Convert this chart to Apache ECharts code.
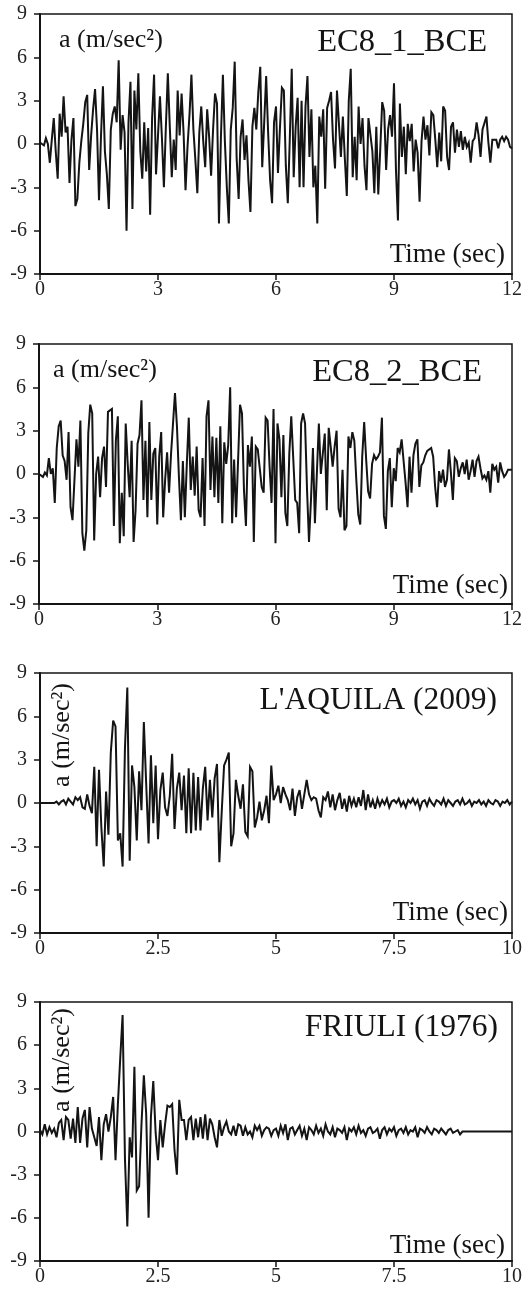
<!DOCTYPE html>
<html><head><meta charset="utf-8">
<script src="https://cdn.jsdelivr.net/npm/echarts@6/dist/echarts.min.js"></script>
<style>html,body{margin:0;padding:0;background:#fff}#c{width:525px;height:1293px}</style>
</head><body><div id="c"></div>
<script>
// sample interval (s)
const DT = 0.05;
const yTicks = [-9, -6, -3, 0, 3, 6, 9];
const titles = ["EC8_1_BCE", "EC8_2_BCE", "L'AQUILA (2009)", "FRIULI (1976)"];
const xMaxes = [12, 12, 10, 10];
const xSteps = [3, 3, 2.5, 2.5];

const ec8_1 = [
 0.1,0.2,-0.1,0.4,0.0,-1.3,0.3,1.8,-0.5,-2.4,
 2.1,0.5,3.3,0.8,1.2,-2.7,0.3,1.8,-4.3,-3.8,
 -1.3,0.2,1.4,2.9,3.4,-1.8,0.6,2.4,3.8,1.0,
 -3.9,0.5,4.0,-0.5,-2.1,-4.5,1.0,2.1,2.6,1.5,
 5.8,-0.4,2.0,0.8,-6.0,1.5,4.3,-4.5,3.7,1.0,
 4.9,-0.5,-2.4,1.5,-1.9,1.1,-4.9,1.8,4.8,-2.1,
 0.6,3.3,0.4,-3.0,1.2,4.9,1.2,-2.3,0.3,-1.8,
 3.7,0.6,3.5,0.8,-3.2,-0.2,2.0,4.8,1.0,-1.1,
 -3.4,0.8,2.6,0.2,-1.6,2.4,0.5,-2.2,1.0,3.5,
 2.8,-5.5,0.5,4.8,0.2,-3.0,-5.5,1.0,2.5,5.7,
 -1.0,-3.8,0.5,1.7,-1.1,0.6,-2.5,-4.7,1.2,2.5,
 1.0,3.6,5.35,-1.6,1.5,4.7,0.8,-2.5,-4.1,1.5,
 2.6,-2.0,1.1,3.9,3.7,-1.5,-4.1,0.3,5.2,-2.3,
 1.2,3.2,-3.0,3.0,-3.0,2.6,4.7,-0.9,2.4,-3.0,
 -1.5,-5.5,1.9,0.5,2.4,-3.1,2.5,3.0,3.6,0.3,
 -1.7,3.7,3.7,-0.9,1.9,-1.0,-3.6,3.0,5.2,-2.3,
 0.5,-2.5,2.6,0.0,1.8,-1.5,-3.2,1.8,1.7,-0.5,
 -3.4,1.2,-3.5,-0.4,2.9,2.3,-1.8,1.0,2.0,0.5,
 4.2,-1.8,-5.3,2.8,-0.9,1.2,-2.1,1.4,0.2,1.4,
 -1.9,0.3,-0.6,-4.0,0.2,1.9,0.3,1.3,-0.8,2.2,
 2.0,0.3,-1.6,0.8,-1.2,2.6,2.3,-0.9,-1.8,1.2,
 1.5,-0.6,1.0,-0.2,0.9,-0.4,0.5,-0.2,0.1,-1.3,
 0.2,0.4,1.5,0.6,-0.9,1.0,0.9,1.9,0.1,-1.3,
 0.3,0.4,0.3,-0.3,0.3,0.5,0.2,0.5,0.3,-0.2,
 -0.3
];

const ec8_2 = [
 0.0,-0.1,-0.2,0.1,-0.1,1.1,0.0,0.4,-2.0,1.8,
 3.3,3.7,1.3,0.9,-0.4,2.9,-2.3,-3.2,-3.1,2.4,
 0.5,3.7,-4.1,-5.3,-3.9,2.8,4.8,4.2,-4.6,0.0,
 1.2,-1.6,1.1,1.9,-0.9,4.3,4.2,4.5,-3.6,2.3,
 4.0,-4.8,-1.3,-4.3,3.5,0.7,-1.6,2.3,-4.7,-2.5,
 2.1,2.7,5.1,-1.8,2.3,-3.0,3.6,-1.8,1.4,1.8,
 -3.5,1.2,2.9,-3.0,-0.4,1.5,-1.3,1.4,3.5,5.6,
 3.3,-0.2,-3.2,0.9,-3.0,0.7,3.9,-1.1,1.2,-1.5,
 1.9,-2.5,-3.0,1.1,-3.6,4.0,5.1,-1.1,2.6,-1.6,
 2.5,-2.0,3.3,-3.4,2.2,0.7,2.0,6.0,-3.4,1.0,
 -3.0,-2.9,4.8,4.2,-1.1,-3.6,2.0,0.5,2.6,-4.7,
 1.9,1.7,0.4,-0.9,-1.3,3.9,3.7,0.5,-2.0,4.5,
 -4.8,3.5,2.4,-1.6,2.7,-2.7,-3.6,1.4,4.0,4.1,
 -1.8,-2.0,-4.1,3.5,4.2,3.5,-1.1,-4.7,-1.8,1.8,
 -3.4,0.1,3.5,0.0,1.4,2.8,-2.5,3.2,1.9,0.5,
 1.9,3.0,-2.4,-3.0,0.3,-3.9,-3.6,2.6,1.8,2.9,
 2.3,-0.4,-2.8,-3.5,1.2,3.6,1.0,-1.2,-1.7,0.7,
 1.3,1.0,1.2,1.5,3.9,-2.9,-3.8,0.2,1.1,-2.3,
 0.4,-0.5,1.8,1.5,2.4,0.9,-0.6,-2.3,1.2,-1.3,
 1.3,2.1,2.4,-0.9,0.6,0.8,1.3,1.6,1.7,1.8,
 1.2,-0.9,-2.3,0.2,-0.6,0.3,-0.9,-0.4,1.7,0.1,
 -1.8,1.1,0.9,-0.2,0.4,0.8,0.0,1.0,-0.4,0.2,
 1.0,-0.2,0.9,1.2,0.4,-0.3,-0.1,-0.4,0.2,-1.3,
 0.7,0.3,0.5,-0.6,0.8,0.2,-0.2,0.0,0.3,0.4,
 0.3
];

const laquila = [
 0,0,0,0,0,0,0,0.1,-0.1,0.1,
 0.2,-0.1,0.3,0.1,-0.1,0.4,0.2,0.4,-0.3,-0.4,
 0.6,-0.2,-0.7,2.5,-3.0,2.3,-1.7,-4.4,0.8,-2.2,
 3.5,5.7,5.3,-2.6,-2.1,-4.4,3.8,8.0,-4.0,2.6,
 1.1,-2.6,2.2,-0.5,5.6,1.3,-2.8,3.3,-1.4,2.6,
 -2.5,0.9,2.1,-0.3,-0.9,0.5,3.4,-1.8,1.0,2.1,
 -0.5,1.9,-2.1,2.4,-2.1,2.1,-1.9,1.8,-1.9,1.0,
 2.5,-1.2,1.6,-1.0,1.7,2.7,-4.1,-0.6,2.6,3.0,
 3.5,-3.0,-2.1,1.6,0.5,-0.4,1.3,-2.0,-2.3,2.5,
 2.2,-1.7,-1.0,0.1,-1.2,-0.5,0.5,-1.4,2.6,0.2,
 0.6,1.2,0.0,1.1,0.6,0.2,-0.5,1.0,-0.9,0.4,
 0.9,-0.4,0.6,1.6,0.6,0.2,0.4,0.3,-0.5,-1.0,
 0.4,0.2,0.8,-0.3,0.6,-0.5,0.2,0.7,-0.4,0.3,
 -0.6,0.5,-0.2,0.3,-0.3,0.4,-0.2,0.9,-0.5,0.6,
 -0.3,0.2,-0.4,0.3,-0.2,0.2,-0.1,0.3,-0.3,0.1,
 0.2,0.0,0.3,-0.2,0.1,-0.3,0.2,0.0,0.3,-0.1,
 0.2,-0.4,0.1,0.2,-0.2,0.3,0.0,-0.2,0.2,0.1,
 -0.1,0.3,-0.2,0.2,0.0,-0.2,0.1,0.2,-0.1,0.3,
 -0.1,0.0,0.2,-0.2,0.1,0.0,0.2,-0.1,0.1,-0.2,
 0.2,0.0,-0.1,0.2,0.1,-0.2,0.1,0.0,0.2,-0.1,
 0.1
];

const friuli = [
 0.1,-0.2,0.5,-0.2,0.3,-0.1,0.2,-0.4,0.6,0.8,
 -0.6,1.0,0.8,-0.5,0.9,-0.8,1.7,-0.8,0.9,1.5,
 -1.1,1.7,0.2,-0.4,-1.0,1.0,-2.0,0.5,1.2,0.0,
 1.0,2.4,-2.0,1.9,5.1,8.1,-1.9,-6.6,-0.4,-1.8,
 4.5,-4.1,-3.8,0.5,3.9,1.2,-6.0,1.0,3.5,-0.1,
 -2.0,0.8,-1.1,0.5,1.8,1.7,1.9,-1.3,-3.0,2.2,
 0.8,0.8,-0.6,0.8,1.0,-0.6,0.9,-0.4,1.0,-0.5,
 1.2,-0.6,0.9,0.5,-0.4,-1.1,0.8,-0.3,0.3,0.7,
 0.0,-0.2,0.4,-0.3,0.5,0.4,-0.3,0.3,-0.2,0.0,
 -0.4,0.4,0.1,0.4,-0.3,0.1,0.3,0.2,-0.3,0.1,
 0.2,-0.3,0.4,-0.1,0.5,-0.6,0.2,0.3,-0.2,0.1,
 0.4,-0.3,0.2,-0.6,0.3,0.1,-0.2,0.4,-0.1,0.2,
 -0.3,0.5,0.0,-0.2,0.3,-0.4,0.2,0.1,-0.1,0.3,
 -0.6,0.2,0.0,0.3,-0.2,0.4,-0.1,0.1,-0.3,0.2,
 0.3,-0.1,0.0,0.2,-0.5,0.1,0.3,-0.2,0.2,0.0,
 0.3,-0.3,0.1,0.2,-0.1,0.3,-0.2,0.1,0.0,0.3,
 -0.4,0.2,0.1,-0.1,0.3,0.0,-0.2,0.2,0.1,-0.1,
 0.2,0.0,-0.2,0.1,0.2,-0.1,0.0,0.1,-0.2,0.0,
 0,0,0,0,0,0,0,0,0,0,
 0,0,0,0,0,0,0,0,0,0,
 0
];

const records = [ec8_1, ec8_2, laquila, friuli];

const FONT = '"Liberation Serif", "Times New Roman", serif';
const INK = '#141414';
const grids = [
  {left: 40, top: 14, width: 473, height: 260},
  {left: 39, top: 344, width: 474, height: 260},
  {left: 40, top: 673, width: 473, height: 260},
  {left: 40, top: 1002, width: 474, height: 259}
];

const xAxes = grids.map((g, i) => ({
  type: 'value', gridIndex: i, min: 0, max: xMaxes[i], interval: xSteps[i],
  axisLine: {show: true, onZero: false, lineStyle: {color: INK, width: 2}},
  axisTick: {show: true, inside: false, length: 6, lineStyle: {color: INK, width: 1.5}},
  axisLabel: {fontFamily: FONT, fontSize: 20, color: '#222', margin: 6},
  splitLine: {show: false}
}));
const yAxes = grids.map((g, i) => ({
  type: 'value', gridIndex: i, min: yTicks[0], max: yTicks[yTicks.length - 1], interval: 3,
  axisLine: {show: true, onZero: false, lineStyle: {color: INK, width: 2}},
  axisTick: {show: true, inside: false, length: 6, lineStyle: {color: INK, width: 1.5}},
  axisLabel: {fontFamily: FONT, fontSize: 20, color: '#222', margin: 13},
  splitLine: {show: false}
}));

const series = records.map((vals, i) => ({
  type: 'line', xAxisIndex: i, yAxisIndex: i, showSymbol: false, symbol: 'none',
  animation: false, silent: true,
  lineStyle: {color: INK, width: 2, join: 'miter', miterLimit: 4},
  data: vals.map((v, k) => [+(k * DT).toFixed(2), v])
}));

function txt(x, y, s, size, align, rot) {
  return {
    type: 'text', x: x, y: y, rotation: rot || 0, silent: true,
    style: {text: s, font: size + 'px ' + FONT, fill: INK, textAlign: align, textVerticalAlign: 'middle'}
  };
}
const graphics = [
  txt(487, 42, titles[0], 32.5, 'right'),
  txt(482, 372, titles[1], 32.5, 'right'),
  txt(497, 701, titles[2], 31.5, 'right'),
  txt(498, 1028, titles[3], 31.5, 'right'),
  txt(59, 40, 'a (m/sec\u00B2)', 26, 'left'),
  txt(53, 370, 'a (m/sec\u00B2)', 26, 'left'),
  txt(62, 735, 'a (m/sec\u00B2)', 26, 'center', Math.PI / 2),
  txt(62, 1060, 'a (m/sec\u00B2)', 26, 'center', Math.PI / 2),
  txt(505, 255, 'Time (sec)', 27, 'right'),
  txt(508, 586, 'Time (sec)', 27, 'right'),
  txt(508, 913, 'Time (sec)', 27, 'right'),
  txt(505, 1246, 'Time (sec)', 27, 'right')
];

const chart = echarts.init(document.getElementById('c'), null, {renderer: 'canvas'});
chart.setOption({
  backgroundColor: '#fff',
  animation: false,
  grid: grids.map(g => Object.assign({show: true, borderColor: INK, borderWidth: 1.5, backgroundColor: 'transparent'}, g)),
  xAxis: xAxes,
  yAxis: yAxes,
  series: series,
  graphic: graphics
});
</script></body></html>
